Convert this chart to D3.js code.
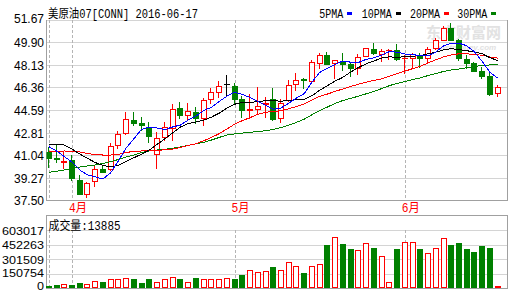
<!DOCTYPE html>
<html><head><meta charset="utf-8">
<script src="https://cdn.jsdelivr.net/npm/d3@7"></script>
<style>html,body{margin:0;padding:0;background:#fff;}svg{display:block;}</style>
</head><body>
<svg id="c" width="510" height="292"></svg>
<script>
const chartTitle = "美原油07[CONN] 2016-06-17";
const volumeTitle = "成交量:13885";
const maNames = ["5PMA", "10PMA", "20PMA", "30PMA"];
const monthLabels = ["4月", "5月", "6月"];
const priceTicks = [37.50, 39.27, 41.04, 42.81, 44.59, 46.36, 48.13, 49.90, 51.67];
const volumeTicks = [0, 150754, 301509, 452263, 603017];

const dates = ["03-29","03-30","03-31","04-01","04-04","04-05","04-06","04-07","04-08","04-11","04-12","04-13","04-14","04-15","04-18","04-19","04-20","04-21","04-22","04-25","04-26","04-27","04-28","04-29","05-02","05-03","05-04","05-05","05-06","05-09","05-10","05-11","05-12","05-13","05-16","05-17","05-18","05-19","05-20","05-23","05-24","05-25","05-26","05-27","05-30","05-31","06-01","06-02","06-03","06-06","06-07","06-08","06-09","06-10","06-13","06-14","06-15","06-16","06-17"];
const open = [41.30,40.81,40.49,40.61,39.11,38.01,38.96,39.94,39.94,41.83,42.75,43.80,43.56,43.27,41.16,42.44,43.14,44.72,44.19,44.40,43.93,45.43,46.03,46.61,46.47,45.43,44.60,44.64,45.07,45.43,43.92,45.37,46.61,47.03,46.83,48.32,48.91,48.26,48.44,48.21,47.87,48.84,49.39,48.99,49.28,49.31,48.64,48.65,48.84,48.65,49.44,50.10,51.02,50.10,48.58,48.31,47.66,47.26,45.90];
const high = [41.70,41.83,41.32,41.04,39.47,38.88,40.26,40.22,41.96,42.93,44.43,44.45,44.03,43.66,42.83,43.66,45.03,45.24,45.11,44.80,45.55,46.29,46.87,47.34,46.69,45.69,45.85,46.42,45.59,46.29,45.45,46.97,47.52,47.13,48.52,49.10,49.19,48.56,49.05,48.25,48.97,49.49,49.88,49.36,49.39,49.78,48.91,49.11,49.05,49.57,50.23,51.20,51.41,50.15,48.95,48.39,47.99,47.47,46.55];
const low = [40.12,40.51,40.04,39.07,38.00,37.76,38.64,39.70,39.86,41.57,42.73,43.40,43.01,42.04,40.02,42.22,42.22,43.93,43.80,43.54,43.40,45.11,45.63,45.77,45.14,44.06,43.93,44.35,44.06,43.80,43.64,45.29,46.16,46.32,46.79,47.93,48.17,47.08,47.73,47.29,47.42,48.80,48.97,48.44,48.58,48.54,47.50,47.99,47.99,48.31,49.40,50.06,50.06,48.52,47.93,47.62,47.08,45.77,45.69];
const close = [40.78,40.69,40.57,39.27,38.01,38.84,39.92,39.73,41.77,42.67,43.88,43.60,43.44,42.56,42.36,43.22,44.66,44.19,44.51,43.93,45.37,45.98,46.47,46.61,45.45,44.59,44.66,44.92,45.14,43.88,45.11,46.55,46.95,46.92,48.36,48.91,48.21,48.52,48.21,47.92,48.78,49.43,49.10,49.25,49.32,48.58,48.68,48.97,48.65,49.36,50.10,51.06,50.10,48.64,48.31,47.68,47.26,45.88,46.37];
const volume = [34000,44500,51700,44500,65000,55000,82700,75500,99300,99300,113800,106500,65000,106500,75500,99300,124100,106500,75500,116900,103400,103400,99300,116900,99300,147900,189300,171700,178900,220300,189300,272000,230600,161300,230600,258600,447900,527500,461300,406500,403400,465400,416800,341300,75500,406500,475800,475800,406500,372300,424100,517200,447900,468500,406500,375500,437500,416800,13885];
const ma5 = [41.70,41.36,40.92,40.49,39.86,39.48,39.32,39.15,39.65,40.59,41.59,42.33,43.07,43.23,43.17,43.04,43.25,43.40,43.79,44.10,44.53,44.80,45.25,45.67,45.98,45.82,45.56,45.25,44.95,44.64,44.74,45.12,45.53,45.88,46.78,47.54,47.87,48.18,48.44,48.35,48.33,48.57,48.69,48.90,49.18,49.14,48.99,48.96,48.84,48.85,49.15,49.63,49.85,49.85,49.64,49.16,48.40,47.55,47.10];
const ma10 = [41.89,41.89,41.83,41.51,41.12,40.78,40.45,40.22,40.12,40.23,40.54,40.83,41.11,41.44,41.88,42.32,42.79,43.24,43.51,43.64,43.78,44.02,44.33,44.73,45.04,45.18,45.18,45.25,45.31,45.31,45.28,45.34,45.39,45.42,45.71,46.14,46.50,46.86,47.16,47.57,47.93,48.22,48.44,48.67,48.77,48.73,48.78,48.82,48.87,49.01,49.14,49.31,49.41,49.35,49.25,49.16,49.01,48.70,48.48];
const ma20 = [41.30,41.32,41.36,41.33,41.28,41.16,41.08,41.04,41.04,41.10,41.24,41.33,41.36,41.36,41.40,41.46,41.51,41.63,41.79,41.93,42.16,42.42,42.72,43.09,43.46,43.75,43.98,44.24,44.41,44.47,44.53,44.68,44.86,45.07,45.37,45.66,45.84,46.05,46.24,46.44,46.61,46.78,46.91,47.04,47.24,47.44,47.64,47.84,48.02,48.29,48.54,48.76,48.92,49.01,49.01,48.94,48.90,48.76,48.67];
const ma30 = [39.68,39.77,39.86,39.96,40.10,40.18,40.26,40.37,40.52,40.69,40.89,41.04,41.24,41.36,41.44,41.49,41.57,41.67,41.79,41.92,42.04,42.22,42.42,42.62,42.70,42.77,42.83,42.88,42.95,43.06,43.20,43.40,43.61,43.86,44.21,44.54,44.82,45.11,45.33,45.50,45.67,45.86,46.05,46.27,46.50,46.68,46.82,46.98,47.11,47.30,47.45,47.62,47.74,47.81,47.91,48.01,48.10,48.13,48.17];

const maSeries = [ma5, ma10, ma20, ma30];
const maColors = ["#0000ff", "#000000", "#ff0000", "#008000"];
const UP = "#ff0000", DOWN = "#008000";

const n = dates.length;
const svg = d3.select("#c");
const L = 46.5, R = 507.5, PT = 20, PB = 200, VT = 215.5, VB = 288.5;

const x = d3.scalePoint().domain(d3.range(n)).range([48.8, 497.7]);
const y = d3.scaleLinear().domain([37.5, 51.67]).range([PB, PT]);
const yv = d3.scaleLinear().domain([0, 603017]).range([289, 230]);

const FONT = "'Liberation Mono','Noto Sans CJK SC',monospace";
function fitText(sel, str) {
  const w = Array.from(str).reduce((s, ch) => s + (ch.charCodeAt(0) > 255 ? 12 : 6), 0);
  sel.attr("textLength", w).attr("lengthAdjust", "spacingAndGlyphs");
}
const px = v => Math.round(v) + 0.5;

svg.append("defs").append("clipPath").attr("id", "mainClip")
  .append("rect").attr("x", L).attr("y", PT - 1).attr("width", R - L).attr("height", PB - PT + 1);

// watermark
const wm = svg.append("g").attr("fill", "#e2e2e2");
wm.append("text").attr("x", 426).attr("y", 38).attr("font-family", "'Noto Sans CJK SC'")
  .attr("font-size", 15).attr("font-weight", "bold").text("东方财富网");
wm.append("text").attr("x", 436).attr("y", 50).attr("font-family", "'Liberation Sans'")
  .attr("font-size", 8).attr("font-style", "italic").attr("font-weight", "bold").text("eastmoney.com");

// grids
const grid = svg.append("g").attr("shape-rendering", "crispEdges");
grid.selectAll("line.pg").data(priceTicks.slice(1)).join("line")
  .attr("x1", L).attr("x2", R).attr("y1", d => px(y(d) - 0.01)).attr("y2", d => px(y(d) - 0.01))
  .attr("stroke", "#d4d4d4");
grid.selectAll("line.vg").data(volumeTicks.slice(1)).join("line")
  .attr("x1", L).attr("x2", R).attr("y1", d => px(yv(d))).attr("y2", d => px(yv(d)))
  .attr("stroke", "#d4d4d4");

const monthStarts = d3.range(1, n).filter(i => dates[i].slice(0, 2) !== dates[i - 1].slice(0, 2));
const dashIdx = [0].concat(monthStarts);
grid.selectAll("line.md").data(dashIdx).join("line")
  .attr("x1", i => px(x(i))).attr("x2", i => px(x(i))).attr("y1", PT).attr("y2", PB)
  .attr("stroke", "#b4b4b4").attr("stroke-dasharray", "3,2");
grid.selectAll("line.mv").data(dashIdx).join("line")
  .attr("x1", i => px(x(i))).attr("x2", i => px(x(i))).attr("y1", 230).attr("y2", VB)
  .attr("stroke", "#b4b4b4").attr("stroke-dasharray", "3,2");

// frames
const fr = svg.append("g").attr("shape-rendering", "crispEdges").attr("stroke", "#a0a0a0").attr("fill", "none");
fr.append("path").attr("d", `M${L},${PT}V${PB + 0.5}H${R}V${PT}`);
fr.append("rect").attr("x", L).attr("y", VT).attr("width", R - L).attr("height", VB - VT);

// candles
const cg = svg.append("g").attr("clip-path", "url(#mainClip)").attr("shape-rendering", "crispEdges");
d3.range(n).forEach(i => {
  const a = Math.round(x(i) - 3);
  const cx = a + 2.5;
  const o = open[i], c = close[i];
  const yh = Math.round(y(high[i])), yl = Math.round(y(low[i]));
  if (o === c) {
    const yy = px(y(o));
    cg.append("line").attr("x1", cx).attr("x2", cx).attr("y1", yh).attr("y2", yl + 1).attr("stroke", "#000");
    cg.append("line").attr("x1", a).attr("x2", a + 6).attr("y1", yy).attr("y2", yy).attr("stroke", "#000");
  } else if (c > o) {
    const top = Math.round(y(c)), bot = Math.round(y(o));
    if (bot - top < 1) {
      cg.append("line").attr("x1", cx).attr("x2", cx).attr("y1", yh).attr("y2", yl + 1).attr("stroke", UP);
      cg.append("line").attr("x1", a).attr("x2", a + 6).attr("y1", top + 0.5).attr("y2", top + 0.5).attr("stroke", UP);
    } else {
      cg.append("line").attr("x1", cx).attr("x2", cx).attr("y1", yh).attr("y2", top).attr("stroke", UP);
      cg.append("line").attr("x1", cx).attr("x2", cx).attr("y1", bot + 1).attr("y2", yl + 1).attr("stroke", UP);
      cg.append("rect").attr("x", a + 0.5).attr("y", top + 0.5).attr("width", 5).attr("height", bot - top)
        .attr("fill", "#fff").attr("stroke", UP);
    }
  } else {
    const top = Math.round(y(o)), bot = Math.round(y(c));
    cg.append("line").attr("x1", cx).attr("x2", cx).attr("y1", yh).attr("y2", yl + 1).attr("stroke", DOWN);
    cg.append("rect").attr("x", a).attr("y", top).attr("width", 6).attr("height", Math.max(1, bot - top + 1))
      .attr("fill", DOWN);
  }
});

// volume bars
const vg = svg.append("g").attr("shape-rendering", "crispEdges");
d3.range(n).forEach(i => {
  const a = Math.round(x(i) - 3);
  const top = Math.round(yv(volume[i]));
  if (close[i] >= open[i]) {
    const t = Math.min(top, 286);
    vg.append("rect").attr("x", a + 0.5).attr("y", t + 0.5).attr("width", 5).attr("height", 287 - t)
      .attr("fill", "#fff").attr("stroke", UP);
  } else {
    vg.append("rect").attr("x", a).attr("y", top).attr("width", 6).attr("height", 288 - top).attr("fill", DOWN);
  }
});

// moving averages
const line = d3.line().x((d, i) => x(i)).y(d => y(d));
const mg = svg.append("g").attr("clip-path", "url(#mainClip)");
[3, 2, 1, 0].forEach(k => {
  mg.append("path").attr("d", line(maSeries[k])).attr("fill", "none")
    .attr("stroke", maColors[k]).attr("stroke-width", 1).attr("shape-rendering", "crispEdges");
});

// axis labels
const lab = svg.append("g").attr("font-family", "'Liberation Sans',sans-serif").attr("fill", "#000");
lab.selectAll("text.p").data(priceTicks).join("text")
  .attr("x", 44).attr("text-anchor", "end").attr("font-size", 12)
  .attr("y", (d, i) => i === priceTicks.length - 1 ? 23 : y(d) + 5)
  .text(d => d.toFixed(2));
lab.selectAll("text.v").data(volumeTicks).join("text")
  .attr("x", 44).attr("text-anchor", "end").attr("font-size", 11)
  .attr("y", d => d === 0 ? 290 : (d === volumeTicks[1] ? yv(d) + 3 : yv(d) + 4.5))
  .attr("textLength", d => String(d).length * 7).attr("lengthAdjust", "spacingAndGlyphs")
  .text(d => String(d));

// month labels
svg.append("g").selectAll("text").data(monthStarts).join("text")
  .attr("x", i => x(i) - 3).attr("y", 212)
  .attr("font-family", FONT).attr("font-size", 12).attr("fill", "#ff0000")
  .text((i, k) => monthLabels[k])
  .each(function (i, k) { fitText(d3.select(this), monthLabels[k]); });

// title
const tt = svg.append("text").attr("x", 48).attr("y", 17.5).attr("font-family", FONT)
  .attr("font-size", 12).attr("fill", "#000").text(chartTitle);
fitText(tt, chartTitle);

// volume title
const vt = svg.append("text").attr("x", 48.5).attr("y", 229.5).attr("font-family", FONT)
  .attr("font-size", 12).attr("fill", "#000").text(volumeTitle);
fitText(vt, volumeTitle);

// legend
const legX = [319.3, 361.7, 410, 457.3];
const leg = svg.append("g");
maNames.forEach((name, k) => {
  const t = leg.append("text").attr("x", legX[k]).attr("y", 17.5).attr("font-family", FONT)
    .attr("font-size", 12).attr("fill", "#000").text(name);
  fitText(t, name);
  leg.append("rect").attr("x", legX[k] + name.length * 6 + 4).attr("y", 12).attr("width", 5).attr("height", 3)
    .attr("fill", maColors[k]).attr("shape-rendering", "crispEdges");
});
</script>
</body></html>
